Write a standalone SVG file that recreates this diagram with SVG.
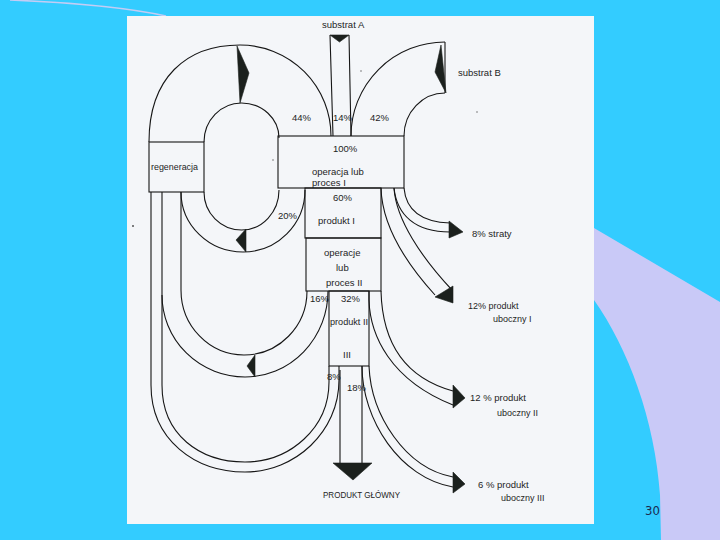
<svg xmlns="http://www.w3.org/2000/svg" width="720" height="540" viewBox="0 0 720 540">
<style>
.ln{fill:none;stroke:#161616;stroke-width:1.1}
.bx{fill:none;stroke:#161616;stroke-width:1.1}
.ah{fill:#1b201d;stroke:#1b201d;stroke-width:0.6;stroke-linejoin:round}
.t{font-family:"Liberation Sans",Arial,sans-serif;font-size:9.5px;fill:#1e1e1e}
.s{font-size:9px}
</style>
<rect x="0" y="0" width="720" height="540" fill="#33CCFF"/>
<path d="M594,228 L720,302 L720,540 L661,540 L660,495 C655,420 628,348 594,300 Z" fill="#C9C9F7"/>
<path d="M10,0 C60,2 120,6 166,16" fill="none" stroke="#C4CCF4" stroke-width="1.5"/>
<rect x="127" y="16" width="467" height="508" fill="#F4F6F9"/>
<text x="645" y="515" font-family="'DejaVu Sans Condensed','Liberation Sans',sans-serif" font-size="13" fill="#1A2A50">30</text>
<g fill="#555">
<circle cx="133" cy="226" r="1"/>
<circle cx="361" cy="71" r="0.7"/>
<circle cx="477" cy="112" r="0.7"/>
<circle cx="273" cy="160" r="0.7"/>
</g>

<g id="connectors">
<!-- 44% recycle into process I -->
<path class="ln" d="M149,142 C149,78 186,45 240,45 A91,91 0 0 1 331,136"/>
<path class="ln" d="M204,142 A37.5,39 0 0 1 241.5,103 A37.5,35 0 0 1 279,138"/>
<polygon class="ah" points="237,46 249,73 240,103"/>
<!-- 20% recycle -->
<path class="ln" d="M204,192 A37.5,38 0 0 0 241.5,230 A37.5,40 0 0 0 279,190"/>
<path class="ln" d="M181,192 A62,60 0 0 0 243,252 A62,62 0 0 0 305,190"/>
<polygon class="ah" points="246,229 236,240 246,252"/>
<!-- 16% recycle -->
<path class="ln" d="M181,192 L181,290 A63,65 0 0 0 244,355 A63,64 0 0 0 307,291"/>
<path class="ln" d="M162,192 L162,295 A83,82 0 0 0 245,377 A83,86 0 0 0 328,291"/>
<polygon class="ah" points="255,355 247,366 255,377"/>
<!-- 8% recycle -->
<path class="ln" d="M151,192 L151,385 C151,440 195,472 245,472 C295,472 339,432 339,380 L339,366"/>
<path class="ln" d="M162,295 L162,385 C162,435 200,462 245,462 C290,462 329,428 329,382 L329,366"/>
<!-- substrat A -->
<path class="ln" d="M330,35 L333,136 M349,35 L351,136"/>
<polygon class="ah" points="330,35 349,35 339.5,42"/>
<!-- substrat B -->
<path class="ln" d="M351,136 A94,94 0 0 1 445,42"/>
<path class="ln" d="M404,136 A41,43 0 0 1 445,93"/>
<path class="ln" d="M445,42 L445,93"/>
<polygon class="ah" points="441,45 435,72 446,93"/>
<!-- straty 8% -->
<path class="ln" d="M404,188 C406,210 420,222 450,223"/>
<path class="ln" d="M394,188 C397,215 415,232 450,232"/>
<polygon class="ah" points="449,221 463,232 449,238"/>
<!-- produkt uboczny I 12% -->
<path class="ln" d="M381,188 C382,225 405,262 435,295"/>
<path class="ln" d="M394,188 C396,220 422,258 452,290"/>
<polygon class="ah" points="435,297 453,286 453,303"/>
<!-- produkt uboczny II 12% -->
<path class="ln" d="M369,291 L369,300 C370,335 390,380 453,405"/>
<path class="ln" d="M381,291 C382,330 395,375 453,391"/>
<polygon class="ah" points="453,385 465,398 453,408"/>
<!-- produkt uboczny III 6% -->
<path class="ln" d="M362,366 C362,420 400,478 453,487"/>
<path class="ln" d="M369,366 C371,415 405,468 453,477"/>
<polygon class="ah" points="453,472 465,484 453,493"/>
<!-- produkt glowny 18% -->
<path class="ln" d="M340,370 L340,463 M362,366 L362,463"/>
<polygon class="ah" points="333,463 372,463 353,480"/>
<!-- flow labels -->
<text class="t" x="292" y="121">44%</text>
<text class="t" x="333" y="121">14%</text>
<text class="t" x="370" y="121">42%</text>
<text class="t" x="278" y="219">20%</text>
<text class="t" x="310" y="302">16%</text>
<text class="t" x="341" y="302">32%</text>
<text class="t" x="327" y="380">8%</text>
<text class="t" x="347" y="391">18%</text>
</g>

<g id="substrat-a"><text class="t" x="322" y="28">substrat A</text></g>
<g id="substrat-b"><text class="t" x="458" y="76">substrat B</text></g>

<g id="regeneracja">
<rect class="bx" x="149" y="142" width="55" height="50"/>
<text class="t" x="151" y="170" font-size="9" textLength="47" lengthAdjust="spacingAndGlyphs">regeneracja</text>
</g>

<g id="proces-1">
<rect class="bx" x="278" y="136" width="126" height="52"/>
<text class="t" x="333" y="152">100%</text>
<text class="t" x="312" y="175">operacja lub</text>
<text class="t" x="312" y="186">proces  I</text>
</g>

<g id="produkt-1">
<rect class="bx" x="305" y="188" width="76" height="50"/>
<text class="t" x="333" y="201">60%</text>
<text class="t" x="318" y="224">produkt  I</text>
</g>

<g id="proces-2">
<rect class="bx" x="306" y="238" width="75" height="53"/>
<text class="t" x="324" y="256">operacje</text>
<text class="t" x="336" y="271">lub</text>
<text class="t" x="326" y="286">proces  II</text>
</g>

<g id="produkt-2">
<rect class="bx" x="329" y="291" width="40" height="75"/>
<text class="t" x="330" y="325" textLength="38" lengthAdjust="spacingAndGlyphs">produkt II</text>
<text class="t" x="343" y="358">III</text>
</g>

<g id="produkt-glowny"><text class="t" x="323" y="498" font-size="8.5" textLength="77" lengthAdjust="spacingAndGlyphs">PRODUKT  GŁÓWNY</text></g>

<g id="straty"><text class="t" x="472" y="237">8%  straty</text></g>

<g id="uboczny-1">
<text class="t s" x="468" y="309">12%  produkt</text>
<text class="t s" x="493" y="322">uboczny I</text>
</g>

<g id="uboczny-2">
<text class="t" x="470" y="401">12 %  produkt</text>
<text class="t s" x="497" y="416">uboczny II</text>
</g>

<g id="uboczny-3">
<text class="t" x="478" y="488">6 %  produkt</text>
<text class="t s" x="501" y="501">uboczny III</text>
</g>
</svg>
